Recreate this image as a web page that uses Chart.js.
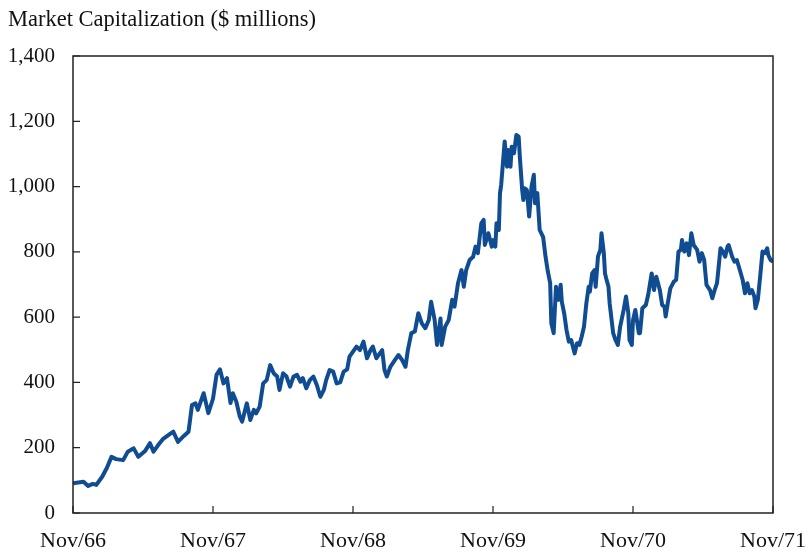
<!DOCTYPE html>
<html>
<head>
<meta charset="utf-8">
<script src="https://cdn.jsdelivr.net/npm/chart.js@4.4.1/dist/chart.umd.min.js"></script>
<style>
  html, body { margin: 0; padding: 0; background: #fff; }
  #wrap { width: 809px; height: 553px; position: relative; }
</style>
</head>
<body>
<div id="wrap"><canvas id="capChart"></canvas></div>
<script>
// months since Nov/66
const months = [
  0.0, 0.9, 1.3, 1.7, 2.0, 2.5, 2.9, 3.3, 3.7, 4.3, 4.7, 5.2, 5.6, 6.2, 6.6, 6.9, 7.3, 7.7, 8.2, 8.6,
  9.0, 9.5, 9.9, 10.2, 10.5, 10.7, 11.2, 11.6, 12.0, 12.3, 12.6, 12.9, 13.2, 13.5, 13.7, 14.0, 14.3, 14.5, 14.9, 15.2,
  15.5, 15.7, 16.0, 16.3, 16.6, 16.9, 17.2, 17.5, 17.7, 18.0, 18.3, 18.6, 18.9, 19.2, 19.5, 19.7, 20.0, 20.3, 20.6, 20.9,
  21.2, 21.5, 21.7, 22.0, 22.3, 22.6, 22.9, 23.2, 23.5, 23.7, 24.3, 24.6, 24.9, 25.2, 25.5, 25.7, 26.0, 26.5, 26.7, 26.9,
  27.2, 27.6, 27.9, 28.2, 28.5, 28.7, 29.0, 29.3, 29.6, 29.9, 30.2, 30.5, 30.7, 31.0, 31.2, 31.5, 31.6, 31.9, 32.2, 32.5,
  32.7, 33.0, 33.3, 33.5, 33.7, 34.0, 34.3, 34.5, 34.7, 35.0, 35.2, 35.3, 35.6, 35.9, 36.0, 36.2, 36.3, 36.5, 36.6, 36.7,
  37.0, 37.2, 37.3, 37.5, 37.6, 37.8, 38.0, 38.2, 38.3, 38.5, 38.6, 38.7, 38.9, 39.1, 39.3, 39.5, 39.6, 39.8, 40.0, 40.3,
  40.5, 40.7, 40.9, 41.0, 41.2, 41.4, 41.6, 41.8, 41.9, 42.1, 42.3, 42.5, 42.7, 43.0, 43.2, 43.4, 43.6, 43.8, 44.0, 44.2,
  44.3, 44.5, 44.7, 44.8, 45.0, 45.2, 45.3, 45.5, 45.6, 45.7, 45.9, 46.0, 46.2, 46.3, 46.5, 46.7, 46.9, 47.2, 47.4, 47.6,
  47.7, 47.9, 48.0, 48.2, 48.5, 48.6, 48.8, 49.1, 49.3, 49.6, 49.8, 50.0, 50.3, 50.5, 50.7, 50.8, 51.0, 51.2, 51.5, 51.7,
  51.9, 52.1, 52.2, 52.4, 52.6, 52.8, 53.0, 53.2, 53.5, 53.7, 53.9, 54.1, 54.3, 54.6, 54.8, 55.0, 55.2, 55.5, 55.7, 55.9,
  56.1, 56.2, 56.5, 56.7, 56.9, 57.2, 57.4, 57.6, 57.8, 58.0, 58.2, 58.4, 58.5, 58.7, 58.9, 59.1, 59.3, 59.5, 59.6, 59.8,
  60.0
];

// market capitalization, $ millions
const marketCap = [
  91, 96, 83, 89, 86, 111, 138, 172, 165, 162, 188, 198, 172, 191, 214, 188, 208, 226, 239, 249,
  218, 236, 249, 331, 336, 316, 367, 306, 350, 423, 440, 397, 413, 337, 367, 341, 295, 280, 336, 285,
  316, 305, 326, 397, 407, 453, 428, 418, 377, 428, 418, 387, 418, 423, 402, 413, 382, 407, 418, 392,
  356, 377, 407, 438, 433, 397, 400, 433, 440, 479, 510, 499, 525, 474, 499, 510, 474, 499, 438, 418,
  448, 469, 484, 469, 448, 499, 551, 556, 612, 581, 566, 591, 647, 591, 515, 596, 515, 571, 591, 653,
  632, 704, 744, 693, 744, 775, 785, 816, 796, 888, 898, 821, 857, 816, 836, 816, 888, 867, 980, 1005,
  1138, 1061, 1112, 1061, 1122, 1102, 1158, 1153, 1092, 990, 959, 995, 990, 908, 1000, 1036, 949, 980, 867, 845,
  786, 740, 704, 581, 551, 693, 653, 699, 647, 612, 561, 525, 530, 489, 520, 515, 540, 571, 642, 693,
  678, 734, 744, 693, 786, 806, 857, 796, 734, 719, 693, 642, 581, 551, 530, 515, 571, 622, 663, 612,
  530, 515, 591, 622, 551, 551, 627, 637, 668, 734, 683, 724, 683, 637, 632, 602, 647, 688, 709, 714,
  801, 806, 836, 801, 826, 790, 857, 821, 806, 770, 796, 775, 699, 683, 658, 683, 704, 811, 801, 785,
  816, 821, 785, 770, 775, 739, 714, 673, 704, 673, 683, 663, 627, 653, 724, 801, 796, 811, 790, 775,
  770
];

const tickLabels = ['Nov/66', 'Nov/67', 'Nov/68', 'Nov/69', 'Nov/70', 'Nov/71'];

const fontName = '"Liberation Serif", "DejaVu Serif", serif';
const lineColor = '#104c91';

// frame + inward tick marks
const framePlugin = {
  id: 'frame',
  afterDraw(chart) {
    const { ctx, chartArea: a, scales } = chart;
    ctx.save();
    ctx.strokeStyle = '#222';
    ctx.lineWidth = 1.5;
    ctx.strokeRect(a.left, a.top, a.right - a.left, a.bottom - a.top);
    ctx.lineWidth = 1.2;
    ctx.beginPath();
    scales.x.ticks.forEach(t => {
      const px = scales.x.getPixelForValue(t.value);
      ctx.moveTo(px, a.bottom);
      ctx.lineTo(px, a.bottom - 7);
    });
    scales.y.ticks.forEach(t => {
      const py = scales.y.getPixelForValue(t.value);
      ctx.moveTo(a.left, py);
      ctx.lineTo(a.left + 7, py);
    });
    ctx.stroke();
    ctx.restore();
  }
};

const points = months.map((m, i) => ({ x: m, y: marketCap[i] }));

new Chart(document.getElementById('capChart'), {
  type: 'line',
  data: {
    datasets: [{
      data: points,
      borderColor: lineColor,
      borderWidth: 4,
      pointRadius: 0,
      tension: 0,
      borderJoinStyle: 'round'
    }]
  },
  options: {
    responsive: true,
    maintainAspectRatio: false,
    animation: false,
    layout: { padding: { left: 8, right: 36, top: 0, bottom: 0 } },
    plugins: {
      legend: { display: false },
      tooltip: { enabled: false },
      title: {
        display: true,
        text: 'Market Capitalization ($ millions)',
        align: 'start',
        color: '#111',
        font: { family: fontName, size: 22.5, weight: 'normal' },
        padding: { top: 7, bottom: 22 }
      }
    },
    scales: {
      x: {
        type: 'linear',
        min: 0,
        max: 60,
        grid: { display: false, drawTicks: false },
        border: { display: false },
        afterFit(scale) {
          scale.height = 40;
          scale.paddingLeft = 0;
          scale.paddingRight = 0;
        },
        ticks: {
          stepSize: 12,
          padding: 15,
          maxRotation: 0,
          color: '#111',
          font: { family: fontName, size: 22 },
          callback: v => tickLabels[v / 12]
        }
      },
      y: {
        min: 0,
        max: 1400,
        grid: { display: false, drawTicks: false },
        border: { display: false },
        afterFit(scale) { scale.width = 65; },
        ticks: {
          stepSize: 200,
          padding: 18,
          color: '#111',
          font: { family: fontName, size: 21 },
          callback: v => v.toLocaleString('en-US')
        }
      }
    }
  },
  plugins: [framePlugin]
});
</script>
</body>
</html>
